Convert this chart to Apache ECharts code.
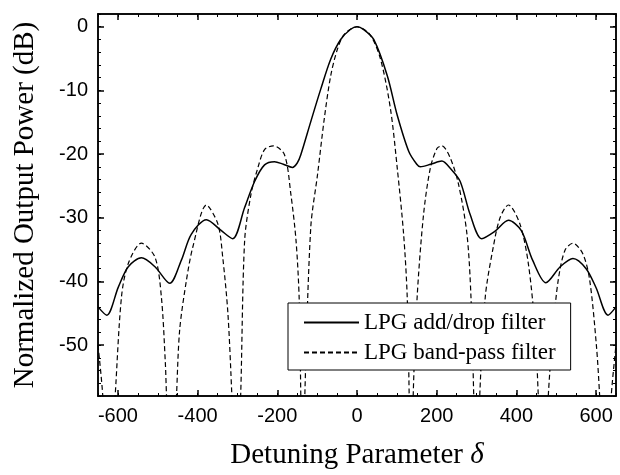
<!DOCTYPE html>
<html lang="en">
<head>
  <meta charset="UTF-8">
  <title>LPG filter response</title>
  <style>
    html,body{margin:0;padding:0;background:#fff;}
    #main{width:620px;height:475px;}
  </style>
</head>
<body>
  <div id="main"></div>
  <script src="https://cdn.jsdelivr.net/npm/echarts@6/dist/echarts.min.js"></script>
  <script>
    // LPG add/drop filter (solid)
    const deltaAddDrop=[-650,-628,-599,-574,-541,-507,-470,-441,-416,-378,-341,-312,-282,-257,-232,-207,-185,-162,-150,-141,-116,-91,-66,-41,-16,0,
      16,42,76,101,130,150,159,185,213,235,259,284,313,345,380,412,441,474,510,542,575,600,630,650];
    const powerAddDrop=[-44.0,-45.3,-40.9,-37.7,-36.3,-37.7,-40.3,-36.7,-32.6,-30.3,-32.0,-33.3,-28.4,-24.3,-21.7,-21.2,-21.6,-22.1,-21.4,-20.1,-14.9,-9.8,-5.1,-2.0,-0.4,0,
      -0.4,-2.0,-7.7,-13.9,-19.6,-21.6,-22.0,-21.6,-21.1,-22.3,-24.3,-29.5,-33.3,-32.2,-30.4,-32.0,-36.7,-40.2,-37.7,-36.4,-38.0,-41.0,-45.3,-44.0];

    // LPG band-pass filter (dashed)
    const deltaBandPass=[-650,-638,-625,-607,-591,-574,-541,-507,-491,-481,-478,-465,-453,-445,-428,-412,-378,-349,-337,-324,-314,-303,-292,
      -282,-266,-249,-232,-210,-182,-166,-153,-145,-141,-136,-131,-116,-99,-82,-66,-49,-32,0,
      32,59,84,101,117,126,131,136,141,151,167,184,201,213,234,255,276,286,293,300,308,
      322,342,359,380,409,430,447,455,467,480,492,505,522,542,567,584,601,609,623,638,650];
    const powerBandPass=[-50,-58,-75,-58,-42.4,-37.2,-34.0,-36.2,-42.4,-52.8,-58,-75,-58,-47.6,-39.8,-34.6,-28.0,-31.0,-36.2,-45.0,-58,-75,-58,
      -33.6,-26.3,-22.2,-19.3,-18.7,-20.1,-26.3,-33.6,-42.9,-58,-75,-58,-31.5,-23.2,-14.4,-7.7,-3.5,-1.2,0,
      -1.2,-5.1,-12.9,-22.2,-32.6,-42.4,-58,-75,-58,-42.4,-29.5,-22.2,-19.1,-18.7,-20.6,-24.8,-32.6,-42.4,-58,-75,-58,
      -42.4,-34.6,-30.0,-28.0,-31.0,-37.2,-47.6,-58,-75,-58,-47.6,-39.8,-35.1,-34.0,-35.7,-39.8,-50.2,-58,-75,-58,-50];

    const xTicks=[-600,-400,-200,0,200,400,600];
    const yTicks=[-50,-40,-30,-20,-10,0];

    const chart=echarts.init(document.getElementById('main'));

    const pairs=(xs,ys)=>xs.map((x,i)=>[x,ys[i]]);
    const black='#000';
    const labelFont={color:black,fontFamily:'Liberation Sans',fontSize:20};
    const nameFont={color:black,fontFamily:'Liberation Serif',fontSize:29};

    // major axis (long ticks + labels), minor axis (short ticks)
    function xAxis(pos,major){
      const main=major&&pos==='bottom';
      return {
        type:'value',position:pos,min:-650,max:650,
        interval:major?undefined:50,
        axisLine:{show:true,onZero:false,lineStyle:{color:black,width:1.5}},
        axisTick:major?{show:true,inside:true,length:6,customValues:xTicks,lineStyle:{color:black,width:1.5}}
                      :{show:true,inside:true,length:3,lineStyle:{color:black,width:1}},
        axisLabel:main?Object.assign({show:true,margin:10,customValues:xTicks},labelFont):{show:false},
        splitLine:{show:false},
        name:main?'Detuning Parameter {i|δ}':'',
        nameLocation:'middle',nameGap:45,
        nameTextStyle:Object.assign({rich:{i:{fontStyle:'italic',fontFamily:'Liberation Serif',fontSize:29,color:black}}},nameFont)
      };
    }
    function yAxis(pos,major){
      const main=major&&pos==='left';
      return {
        type:'value',position:pos,min:-58,max:2,
        interval:major?undefined:2,
        axisLine:{show:true,onZero:false,lineStyle:{color:black,width:1.5}},
        axisTick:major?{show:true,inside:true,length:6,customValues:yTicks,lineStyle:{color:black,width:1.5}}
                      :{show:true,inside:true,length:3,lineStyle:{color:black,width:1}},
        axisLabel:main?Object.assign({show:true,margin:10,customValues:yTicks},labelFont):{show:false},
        splitLine:{show:false},
        name:main?'Normalized Output Power (dB)':'',
        nameLocation:'middle',nameGap:58,
        nameTextStyle:nameFont
      };
    }

    const option={
      animation:false,
      backgroundColor:'#fff',
      grid:{left:98,right:4,top:14,bottom:75},
      legend:{
        orient:'vertical',left:288,top:303,
        padding:[8,15,6,15],itemGap:7,itemWidth:55,itemHeight:2,
        itemStyle:{opacity:0},
        backgroundColor:'#fff',borderColor:black,borderWidth:1,
        textStyle:{color:black,fontFamily:'Liberation Serif',fontSize:23},
        data:['LPG add/drop filter','LPG band-pass filter']
      },
      xAxis:[xAxis('bottom',true),xAxis('bottom',false),xAxis('top',true),xAxis('top',false)],
      yAxis:[yAxis('left',true),yAxis('left',false),yAxis('right',true),yAxis('right',false)],
      series:[
        {
          name:'LPG add/drop filter',type:'line',
          data:pairs(deltaAddDrop,powerAddDrop),
          symbol:'none',smooth:0.3,
          lineStyle:{color:black,width:1.5},itemStyle:{color:black}
        },
        {
          name:'LPG band-pass filter',type:'line',
          data:pairs(deltaBandPass,powerBandPass),
          symbol:'none',smooth:0.3,
          lineStyle:{color:black,width:1.2,type:[5,3]},itemStyle:{color:black}
        }
      ]
    };
    chart.setOption(option);
  </script>
</body>
</html>
